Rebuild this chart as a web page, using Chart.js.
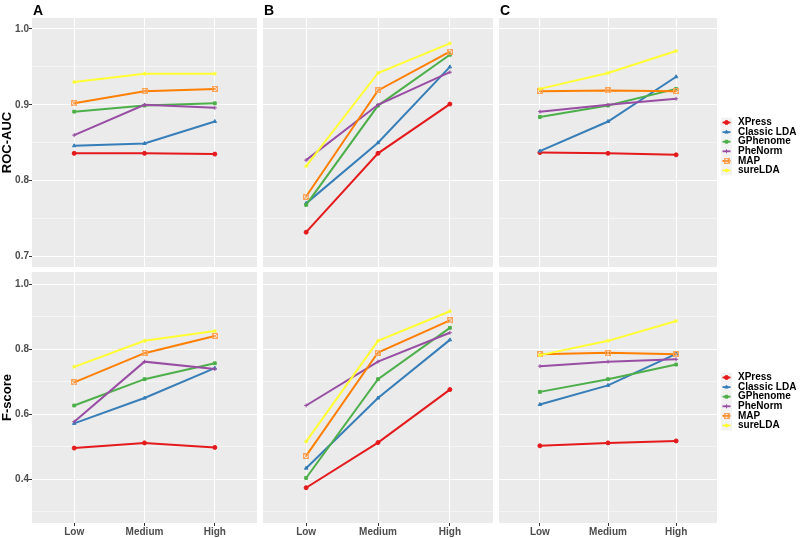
<!DOCTYPE html>
<html>
<head>
<meta charset="utf-8">
<script src="https://cdn.jsdelivr.net/npm/chart.js@4"></script>
<style>
  body { margin: 0; background: #fff; width: 800px; height: 538px; position: relative; overflow: hidden; }
  canvas { position: absolute; }
</style>
</head>
<body>
<canvas id="a1" width="257" height="267" style="left:0px;top:0px"></canvas>
<canvas id="b1" width="230" height="267" style="left:263px;top:0px"></canvas>
<canvas id="c1" width="301" height="267" style="left:499px;top:0px"></canvas>
<canvas id="a2" width="257" height="266" style="left:0px;top:272px"></canvas>
<canvas id="b2" width="230" height="266" style="left:263px;top:272px"></canvas>
<canvas id="c2" width="301" height="266" style="left:499px;top:272px"></canvas>
<script>
var levels = ['Low', 'Medium', 'High'];
var methods = ['XPress', 'Classic LDA', 'GPhenome', 'PheNorm', 'MAP', 'sureLDA'];
var tags = ['A', 'B', 'C'];
var rocTicks = [0.7, 0.8, 0.9, 1.0];
var fTicks = [0.4, 0.6, 0.8, 1.0];

// one row per method, values for Low / Medium / High
var rocA = [
  [0.836, 0.836, 0.835],
  [0.846, 0.849, 0.878],
  [0.891, 0.899, 0.902],
  [0.860, 0.900, 0.896],
  [0.902, 0.918, 0.921],
  [0.930, 0.941, 0.941]
];
var rocB = [
  [0.732, 0.836, 0.901],
  [0.770, 0.850, 0.950],
  [0.768, 0.899, 0.966],
  [0.827, 0.900, 0.943],
  [0.779, 0.919, 0.970],
  [0.819, 0.942, 0.981]
];
var rocC = [
  [0.837, 0.836, 0.834],
  [0.839, 0.878, 0.937],
  [0.884, 0.899, 0.921],
  [0.891, 0.900, 0.908],
  [0.918, 0.919, 0.918],
  [0.921, 0.942, 0.971]
];
var fA = [
  [0.496, 0.512, 0.498],
  [0.572, 0.650, 0.742],
  [0.627, 0.708, 0.757],
  [0.577, 0.762, 0.739],
  [0.698, 0.788, 0.841],
  [0.746, 0.826, 0.856]
];
var fB = [
  [0.374, 0.513, 0.676],
  [0.434, 0.650, 0.829],
  [0.404, 0.708, 0.866],
  [0.627, 0.762, 0.851],
  [0.472, 0.790, 0.889],
  [0.516, 0.826, 0.917]
];
var fC = [
  [0.503, 0.512, 0.518],
  [0.630, 0.689, 0.786],
  [0.669, 0.708, 0.753],
  [0.748, 0.762, 0.769],
  [0.785, 0.789, 0.785],
  [0.782, 0.826, 0.887]
];

var colors = ['#E41A1C', '#377EB8', '#4DAF4A', '#984EA3', '#FF7F00', '#FFFF33'];
var FONT = "'Liberation Sans', Arial, sans-serif";
Chart.defaults.font.family = FONT;

// square with an x inside, like ggplot shape 7
function boxCross(col) {
  var cv = document.createElement('canvas');
  cv.width = 6; cv.height = 6;
  var g = cv.getContext('2d');
  g.strokeStyle = col; g.lineWidth = 1;
  g.strokeRect(0.5, 0.5, 5, 5);
  g.beginPath(); g.moveTo(0.5, 0.5); g.lineTo(5.5, 5.5); g.moveTo(5.5, 0.5); g.lineTo(0.5, 5.5); g.stroke();
  return cv;
}
var shapes = ['circle', 'triangle', 'rect', 'cross', boxCross('#FDA35A'), 'star'];

function isMajor(v, majors) {
  return majors.some(function (m) { return Math.abs(m - v) < 1e-6; });
}

function noPad(s) {
  s.paddingTop = 0; s.paddingBottom = 0; s.paddingLeft = 0; s.paddingRight = 0;
}

var panelDeco = {
  id: 'panelDeco',
  beforeDraw: function (chart) {
    var a = chart.chartArea, c = chart.ctx;
    c.save();
    c.fillStyle = '#EBEBEB';
    c.fillRect(a.left, a.top, a.right - a.left, a.bottom - a.top);
    c.restore();
  },
  afterDraw: function (chart, args, o) {
    var a = chart.chartArea, c = chart.ctx;
    c.save();
    if (o.tag) {
      c.fillStyle = '#000';
      c.font = 'bold 14px ' + FONT;
      c.textBaseline = 'alphabetic';
      c.fillText(o.tag, a.left + 1, 15);
    }
    if (o.legend) {
      var ds = chart.data.datasets;
      var step = 9.6;
      var y0 = (a.top + a.bottom) / 2 + 4 - step * (ds.length - 1) / 2;
      var kx = a.right + 4, kw = 11;
      ds.forEach(function (d, i) {
        var y = y0 + i * step;
        c.fillStyle = '#F2F2F2';
        c.fillRect(kx, y - step / 2, kw, step);
        c.strokeStyle = d.borderColor;
        c.lineWidth = 1.8;
        c.beginPath(); c.moveTo(kx + 1.5, y); c.lineTo(kx + kw - 1.5, y); c.stroke();
        c.fillStyle = d.pointBackgroundColor;
        c.strokeStyle = d.pointBorderColor;
        c.lineWidth = 1;
        Chart.helpers.drawPoint(c, { pointStyle: d.pointStyle, radius: 2, borderWidth: 1, rotation: 0 }, kx + kw / 2, y);
        c.fillStyle = '#000';
        c.font = 'bold 10px ' + FONT;
        c.textBaseline = 'middle';
        c.fillText(d.label, kx + kw + 6, y);
      });
    }
    c.restore();
  }
};

function makePanel(id, vals, majors, yMin, yMax, opt) {
  var minors = [];
  var step = majors[1] - majors[0];
  for (var k = -1; k < majors.length; k++) {
    var m = majors[0] + step * (k + 0.5);
    if (m > yMin && m < yMax) minors.push(m);
  }
  var allTicks = majors.concat(minors);

  return new Chart(document.getElementById(id), {
    type: 'line',
    data: {
      datasets: methods.map(function (m, i) {
        return {
          label: m,
          data: vals[i].map(function (v, j) { return { x: j, y: v }; }),
          borderColor: colors[i],
          backgroundColor: colors[i],
          pointBackgroundColor: i == 4 ? '#FDA35A' : colors[i],
          pointBorderColor: i == 4 ? '#FDA35A' : colors[i],
          pointStyle: shapes[i],
          pointRadius: 2,
          pointBorderWidth: 1,
          borderWidth: 2,
          tension: 0,
          order: methods.length - i
        };
      })
    },
    options: {
      responsive: false,
      animation: false,
      events: [],
      layout: { autoPadding: false, padding: { top: opt.padTop, right: opt.padRight, left: 0, bottom: 0 } },
      plugins: {
        legend: { display: false },
        tooltip: { enabled: false },
        panelDeco: { tag: opt.tag, legend: opt.legend }
      },
      scales: {
        x: {
          type: 'linear',
          min: -0.6,
          max: 2.6,
          afterBuildTicks: function (s) { s.ticks = levels.map(function (l, i) { return { value: i }; }); },
          afterFit: function (s) { s.height = opt.showX ? 15 : 0; noPad(s); },
          border: { display: false },
          grid: { color: '#FFFFFF', lineWidth: 1, drawTicks: opt.showX, tickLength: 3, tickColor: '#333333', tickWidth: 1 },
          ticks: {
            display: opt.showX,
            autoSkip: false,
            maxRotation: 0,
            padding: 0,
            color: '#4D4D4D',
            font: { size: 10, weight: 'bold' },
            callback: function (v) { return levels[v]; }
          }
        },
        y: {
          type: 'linear',
          min: yMin,
          max: yMax,
          afterBuildTicks: function (s) { s.ticks = allTicks.map(function (v) { return { value: v }; }); },
          afterFit: function (s) { s.width = opt.showY ? 32 : 0; noPad(s); },
          border: { display: false },
          grid: {
            color: '#FFFFFF',
            lineWidth: function (ctx) { return isMajor(ctx.tick.value, majors) ? 1 : 0.5; },
            drawTicks: opt.showY,
            tickLength: 3,
            tickWidth: 1,
            tickColor: function (ctx) { return isMajor(ctx.tick.value, majors) ? '#333333' : 'rgba(0,0,0,0)'; }
          },
          ticks: {
            display: opt.showY,
            padding: 0,
            color: '#4D4D4D',
            font: { size: 10, weight: 'bold' },
            callback: function (v) { return isMajor(v, majors) ? v.toFixed(1) : ''; }
          },
          title: {
            display: opt.showY,
            text: opt.yTitle,
            color: '#000',
            padding: { top: 0, bottom: 0 },
            font: { size: 13, weight: 'bold' }
          }
        }
      }
    },
    plugins: [panelDeco]
  });
}

var rocMin = 0.6861, rocMax = 1.0145;
var fMin = 0.2655, fMax = 1.0378;

makePanel('a1', rocA, rocTicks, rocMin, rocMax, { padTop: 18, padRight: 0, tag: tags[0], showY: true, showX: false, yTitle: 'ROC-AUC' });
makePanel('b1', rocB, rocTicks, rocMin, rocMax, { padTop: 18, padRight: 0, tag: tags[1], showY: false, showX: false });
makePanel('c1', rocC, rocTicks, rocMin, rocMax, { padTop: 18, padRight: 83, tag: tags[2], showY: false, showX: false, legend: true });
makePanel('a2', fA, fTicks, fMin, fMax, { padTop: 0, padRight: 0, showY: true, showX: true, yTitle: 'F-score' });
makePanel('b2', fB, fTicks, fMin, fMax, { padTop: 0, padRight: 0, showY: false, showX: true });
makePanel('c2', fC, fTicks, fMin, fMax, { padTop: 0, padRight: 83, showY: false, showX: true, legend: true });
</script>
</body>
</html>
